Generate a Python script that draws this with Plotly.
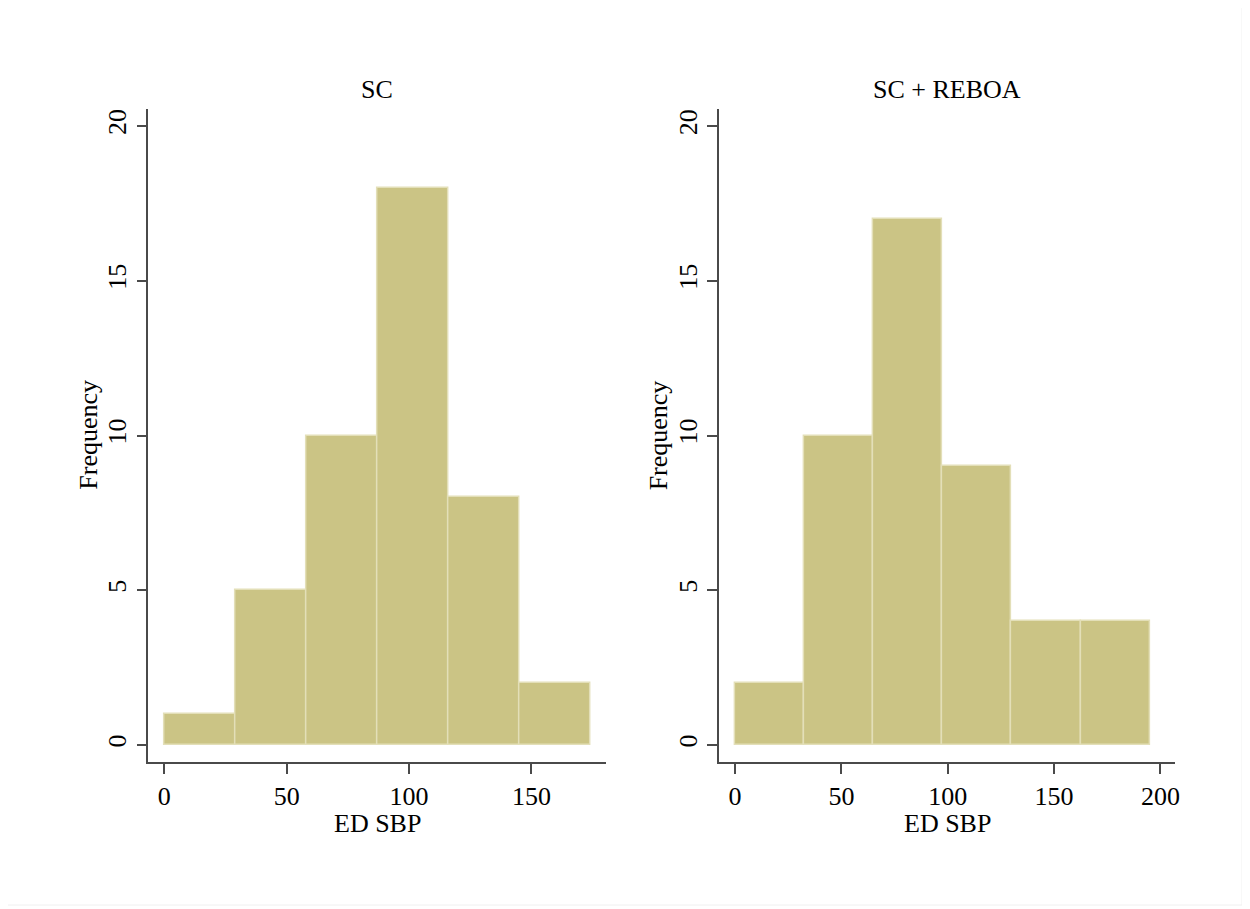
import plotly.graph_objects as go

# Data
panel_titles = ["SC", "SC + REBOA"]
sc_counts = [1, 5, 10, 18, 8, 2]
sc_bin_start = 0.0
sc_bin_width = 29.0
reboa_counts = [2, 10, 17, 9, 4, 4]
reboa_bin_start = 0.0
reboa_bin_width = 32.5
sc_xticks = [0, 50, 100, 150]
reboa_xticks = [0, 50, 100, 150, 200]
yticks = [0, 5, 10, 15, 20]

OFF = 8  # page body margin
W, H = 1242, 901
FONT = "Liberation Serif, Times New Roman, serif"
FILL = "#cbc485"
EDGE = "#e3dfb8"
AXC = "#4a4a4a"

def centers(start, width, counts):
    return [start + width * (i + 0.5) for i in range(len(counts))]

fig = go.Figure()
fig.add_trace(go.Bar(x=centers(sc_bin_start, sc_bin_width, sc_counts), y=sc_counts,
                     width=sc_bin_width, marker=dict(color=FILL, line=dict(color=EDGE, width=1.5)),
                     xaxis="x", yaxis="y", showlegend=False, hoverinfo="x+y"))
fig.add_trace(go.Bar(x=centers(reboa_bin_start, reboa_bin_width, reboa_counts), y=reboa_counts,
                     width=reboa_bin_width, marker=dict(color=FILL, line=dict(color=EDGE, width=1.5)),
                     xaxis="x2", yaxis="y2", showlegend=False, hoverinfo="x+y"))

def px_x(p):
    return (p - OFF) / W

def px_y(p):
    return 1 - (p - OFF) / H

ydom = [px_y(762), px_y(109)]
common_ax = dict(showgrid=False, zeroline=False, showline=True, linecolor=AXC, linewidth=1.5,
                 ticks="outside", ticklen=10, tickwidth=1.5, tickcolor=AXC,
                 tickfont=dict(family=FONT, size=26, color="#000"))

fig.update_layout(
    width=W, height=H, margin=dict(l=0, r=0, t=0, b=0),
    paper_bgcolor="white", plot_bgcolor="white", bargap=0,
    xaxis=dict(domain=[px_x(149), px_x(608)], range=[-6.5, 180.3], anchor="y",
               tickvals=sc_xticks, **common_ax),
    yaxis=dict(domain=ydom, range=[-0.55, 20.55], anchor="x", tickvals=yticks,
               tickangle=-90, **common_ax),
    xaxis2=dict(domain=[px_x(722), px_x(1180)], range=[-7.5, 207], anchor="y2",
                tickvals=reboa_xticks, **common_ax),
    yaxis2=dict(domain=ydom, range=[-0.55, 20.55], anchor="x2", tickvals=yticks,
                tickangle=-90, **common_ax),
)

annots = []
for title, (l, r) in zip(panel_titles, [(149, 608), (722, 1180)]):
    cx = (l + r) / 2
    annots.append(dict(text=title, x=px_x(cx), y=px_y(90), xref="paper", yref="paper",
                       showarrow=False, xanchor="center", yanchor="middle",
                       font=dict(family=FONT, size=26, color="#000")))
    annots.append(dict(text="ED SBP", x=px_x(cx), y=px_y(823), xref="paper", yref="paper",
                       showarrow=False, xanchor="center", yanchor="middle",
                       font=dict(family=FONT, size=26, color="#000")))
    annots.append(dict(text="Frequency", x=px_x(l - 60), y=px_y(435), xref="paper", yref="paper",
                       showarrow=False, xanchor="center", yanchor="middle", textangle=-90,
                       font=dict(family=FONT, size=26, color="#000")))
fig.update_layout(annotations=annots)

fig.add_shape(type="rect", xref="paper", yref="paper", x0=px_x(3), x1=px_x(1247), y0=px_y(905), y1=px_y(2),
              line=dict(color="#f0f0f0", width=1), fillcolor="rgba(0,0,0,0)", layer="below")

fig.write_html("out.html")
